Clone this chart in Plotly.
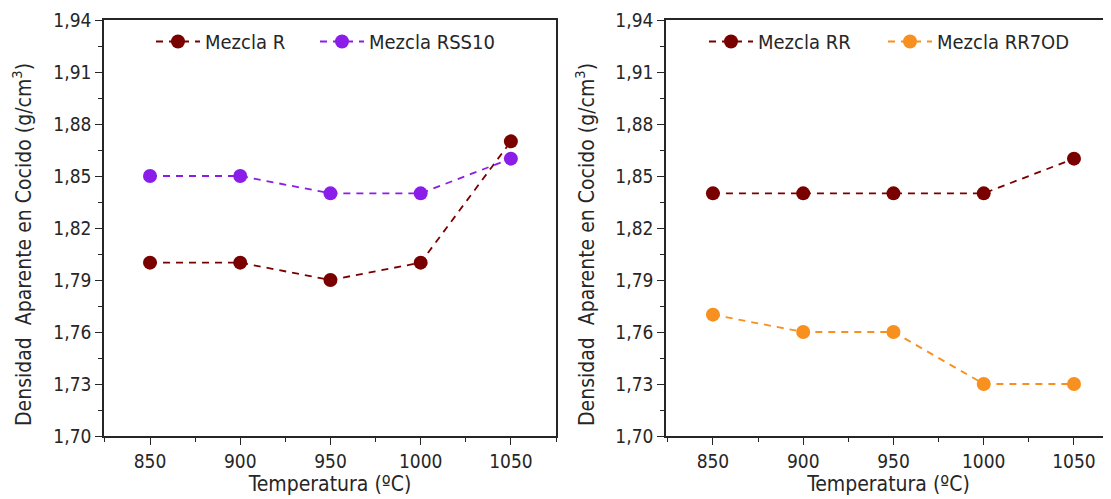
import plotly.graph_objects as go

temps = [850, 900, 950, 1000, 1050]
mezcla_r = [1.80, 1.80, 1.79, 1.80, 1.87]
mezcla_rss10 = [1.85, 1.85, 1.84, 1.84, 1.86]
mezcla_rr = [1.84, 1.84, 1.84, 1.84, 1.86]
mezcla_rr7od = [1.77, 1.76, 1.76, 1.73, 1.73]
y_ticks = [1.70, 1.73, 1.76, 1.79, 1.82, 1.85, 1.88, 1.91, 1.94]
x_ticks = [850, 900, 950, 1000, 1050]
y_title = "Densidad  Aparente en Cocido (g/cm<sup>3</sup>)"
x_title = "Temperatura (ºC)"

DARKRED = "#7a0000"
PURPLE = "#8a1ee8"
ORANGE = "#f7901e"
FONT = "DejaVu Sans Condensed"
TXT = "#262626"

fig = go.Figure()

def add(x, y, name, color, xa, ya, legend):
    fig.add_trace(go.Scatter(
        x=x, y=y, name=name, mode="lines+markers",
        line=dict(color=color, width=1.8, dash="7px,6px"),
        marker=dict(color=color, size=14),
        xaxis=xa, yaxis=ya, legend=legend))

add(temps, mezcla_r, "Mezcla R", DARKRED, "x", "y", "legend")
add(temps, mezcla_rss10, "Mezcla RSS10", PURPLE, "x", "y", "legend2")
add(temps, mezcla_rr, "Mezcla RR", DARKRED, "x2", "y2", "legend3")
add(temps, mezcla_rr7od, "Mezcla RR7OD", ORANGE, "x2", "y2", "legend4")

# page body has an 8px margin: figure coordinates = screen - 8
OFF = 8
W, H = 1111 - OFF, 499 - OFF
ydom = [1 - (436 - OFF) / H, 1 - (20 - OFF) / H]

xcommon = dict(
    tickvals=x_ticks, ticks="outside", ticklen=7, tickwidth=1.3, tickcolor=TXT,
    showline=True, linecolor=TXT, linewidth=1.6, showgrid=False, zeroline=False,
    tickfont=dict(family=FONT, size=19, color=TXT),
    minor=dict(dtick=25, tick0=825, ticks="outside", ticklen=4, tickcolor=TXT, showgrid=False),
    title=dict(text=x_title, font=dict(family=FONT, size=21, color=TXT), standoff=5),
    automargin=False,
)
ycommon = dict(
    range=[1.70, 1.94], tickvals=y_ticks, tickformat=".2f",
    ticks="outside", ticklen=7, tickwidth=1.3, tickcolor=TXT,
    showline=True, linecolor=TXT, linewidth=1.6, showgrid=False, zeroline=False,
    tickfont=dict(family=FONT, size=19, color=TXT),
    minor=dict(dtick=0.015, tick0=1.70, ticks="outside", ticklen=4, tickcolor=TXT, showgrid=False),
    automargin=False,
)

def leg(screen_x):
    return dict(orientation="h", xanchor="left", yanchor="top", y=1 - 14 / H,
                x=(screen_x - OFF) / W,
                bgcolor="rgba(0,0,0,0)", font=dict(family=FONT, size=20, color=TXT),
                itemwidth=44)

ytitle_y = 1 - (245 - OFF) / H
annotations = [
    dict(text=y_title, textangle=-90, xref="paper", yref="paper",
         x=(22 - OFF) / W, y=ytitle_y, xanchor="center", yanchor="middle",
         showarrow=False, font=dict(family=FONT, size=21, color=TXT)),
    dict(text=y_title, textangle=-90, xref="paper", yref="paper",
         x=(585 - OFF) / W, y=ytitle_y, xanchor="center", yanchor="middle",
         showarrow=False, font=dict(family=FONT, size=21, color=TXT)),
]

fig.update_layout(
    width=W, height=H,
    margin=dict(l=0, r=0, t=0, b=0),
    paper_bgcolor="white", plot_bgcolor="white",
    separators=",.",
    xaxis=dict(domain=[(104 - OFF) / W, (556 - OFF) / W], range=[824.5, 1075],
               anchor="y", mirror=True, **xcommon),
    yaxis=dict(domain=ydom, anchor="x", mirror=True, **ycommon),
    xaxis2=dict(domain=[(666 - OFF) / W, 1.0], range=[824, 1070.5],
                anchor="y2", mirror=True, **xcommon),
    yaxis2=dict(domain=ydom, anchor="x2", mirror=False, **ycommon),
    legend=leg(151),
    legend2=leg(315),
    legend3=leg(704),
    legend4=leg(883),
    annotations=annotations,
    showlegend=True,
)

fig.write_html("out.html")
